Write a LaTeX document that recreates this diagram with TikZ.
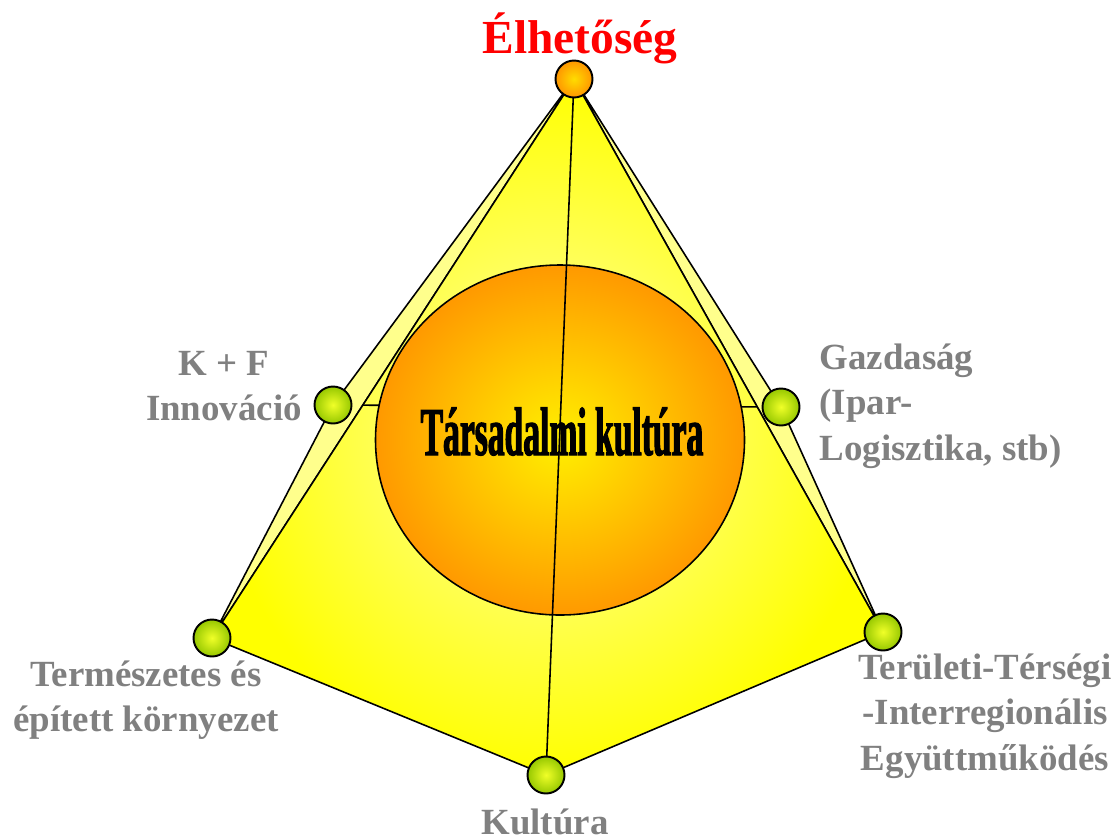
\documentclass[tikz,border=0pt]{standalone}
\usepackage{fontspec}
\setmainfont{Liberation Serif}
\newfontfamily\narrowfont[FakeStretch=0.49,FakeBold=1.5]{Liberation Serif}
\definecolor{labelgray}{RGB}{128,128,128}
\definecolor{stripyellow}{RGB}{255,255,140}
\definecolor{facelight}{RGB}{255,255,170}
\definecolor{faceyellow}{RGB}{255,255,0}
\definecolor{discorange}{RGB}{255,153,0}
\definecolor{discyellow}{RGB}{255,240,0}
\definecolor{ballgreen}{RGB}{150,200,0}
\definecolor{ballyellow}{RGB}{240,255,40}
\definecolor{toporange}{RGB}{255,150,0}
\definecolor{topyellow}{RGB}{255,220,0}
\begin{document}
\begin{tikzpicture}[x=0.02cm,y=-0.02cm,line width=0.9pt,
  ball/.style={circle,draw,line width=1.1pt,minimum size=0.74cm,inner sep=0pt,
    inner color=ballyellow,outer color=ballgreen},
  lbl/.style={font=\fontsize{21}{26}\selectfont\bfseries,text=labelgray,align=center}]
  \useasboundingbox (0,0) rectangle (1115,839);
  \coordinate (apex) at (574,79);
  \coordinate (kf) at (333,405);
  \coordinate (gazd) at (781,407);
  \coordinate (term) at (212,638);
  \coordinate (kult) at (546,775);
  \coordinate (terul) at (883,632);
  % back faces
  \draw[fill=stripyellow] (apex) -- (kf) -- (term) -- cycle;
  \draw[fill=stripyellow] (apex) -- (gazd) -- (terul) -- cycle;
  % front faces
  \shade[inner color=facelight,outer color=faceyellow] (apex) -- (term) -- (kult) -- (terul) -- cycle;
  \draw (apex) -- (term) -- (kult) -- (terul) -- cycle;
  \draw (intersection of apex--term and kf--gazd) -- (intersection of apex--terul and kf--gazd);
  % disc
  \draw[inner color=discyellow,outer color=discorange] (560,440) ellipse (184.5 and 175);
  \draw (apex) -- (kult);
  \node[font=\narrowfont\bfseries\fontsize{39}{39}\selectfont,anchor=base] (tk) at (562,455) {Társadalmi kultúra};
  % balls
  \node[ball,inner color=topyellow,outer color=toporange] (apexball) at (apex) {};
  \node[ball] (kfball) at (kf) {};
  \node[ball] (gazdball) at (gazd) {};
  \node[ball] (termball) at (term) {};
  \node[ball] (kultball) at (kult) {};
  \node[ball] (terulball) at (terul) {};
  % labels
  \node[font=\fontsize{27}{30}\selectfont\bfseries,text=red] (title) at (580,38) {Élhetőség};
  \node[lbl] (kftext) at (224,386) {K + F\\Innováció};
  \node[lbl,align=left,anchor=west] (gazdtext) at (813,406) {Gazdaság\\(Ipar-\\Logisztika, stb)};
  \node[lbl] (termtext) at (146,700) {Természetes és\\épített környezet};
  \node[lbl] (terultext) at (985,716) {Területi-Térségi\\-Interregionális\\Együttműködés};
  \node[lbl,inner sep=0pt,anchor=base] (kulttext) at (545,834) {Kultúra};
\end{tikzpicture}
\end{document}
